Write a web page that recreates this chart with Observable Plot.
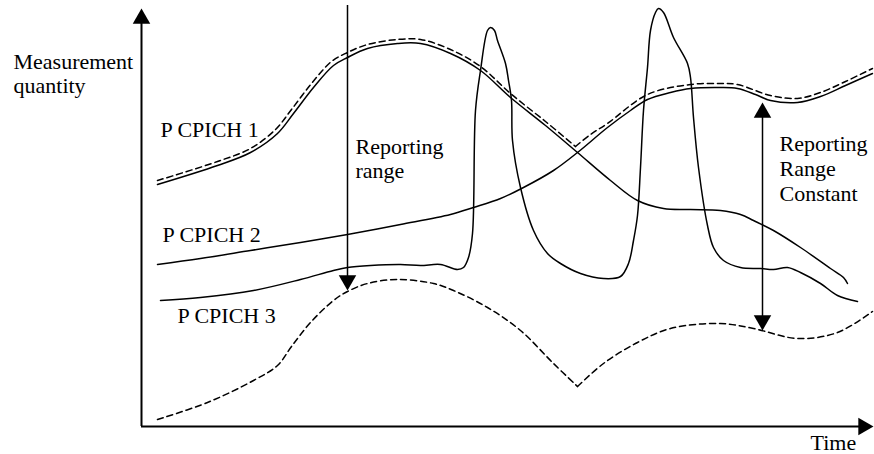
<!DOCTYPE html>
<html><head><meta charset="utf-8">
<script src="https://cdn.jsdelivr.net/npm/d3@7"></script>
<script src="https://cdn.jsdelivr.net/npm/@observablehq/plot@0.6"></script>
<style>html,body{margin:0;padding:0;background:#fff;}</style>
</head><body><div id="chart"></div>
<script>
// [time, measurement quantity]
const cpich1 = [[16,242],[76,261],[109,274],[136,293],[152,313],[172,339],[192,361],[206,369],[226,378],[256,383],[279,383],[309,373],[339,356],[369,329],[404,301],[436,274],[469,246],[496,226],[522,218],[549,217],[579,216],[599,212],[612,206],[632,196],[659,179],[689,158],[702,149],[706,143]];
const cpich2 = [[16,162],[59,168],[109,176],[159,184],[206,192],[259,202],[309,212],[332,219],[359,228],[382,239],[412,256],[436,274],[466,299],[489,316],[506,327],[529,334],[549,338],[579,339],[596,338],[614,332],[629,326],[656,324],[679,330],[704,341],[731,353]];
const cpich3 = [[19,126],[59,129],[112,136],[159,147],[192,156],[206,159],[229,161],[259,162],[279,161],[299,162],[316,157],[322,159],[327,169],[331,193],[334,316],[339,356],[346,396],[349,399],[353,396],[356,386],[364,363],[367,346],[370,326],[371,286],[379,239],[392,196],[406,173],[419,163],[439,153],[462,148],[479,150],[487,163],[492,186],[496,211],[499,259],[502,316],[506,359],[509,396],[514,414],[517,418],[522,414],[532,389],[546,363],[549,349],[552,309],[557,259],[566,201],[572,179],[582,166],[599,159],[619,158],[632,157],[646,159],[659,154],[679,143],[696,131],[716,125]];
// best cell (dashed upper), split at the crossing corner: [time, value, segment]
const bestCell = [[16,246,0],[76,265,0],[109,278,0],[134,297,0],[150,317,0],[170,343,0],[190,365,0],[206,374,0],[226,382,0],[256,387,0],[279,387,0],[309,377,0],[339,360,0],[369,333,0],[404,305,0],[434,280,0],
  [434,280,1],[449,292,1],[466,303,1],[506,332,1],[549,342,1],[579,343,1],[596,342,1],[629,331,1],[656,328,1],[679,334,1],[704,345,1],[731,358,1]];
// reporting range lower boundary (dashed), split at its corner
const rangeFloor = [[16,7,0],[66,24,0],[112,46,0],[136,61,0],[150,80,0],[169,104,0],[192,126,0],[206,135,0],[226,143,0],[256,147,0],[292,143,0],[312,136,0],[346,119,0],[379,96,0],[412,63,0],[436,40,0],
  [436,40,1],[462,63,1],[496,84,1],[529,98,1],[579,103,1],[612,98,1],[656,88,1],[696,94,1],[731,115,1]];
// arrows
const reportingRange = [{t:206, from:421, to:136}];
const reportingConstant = [{t:621, top:324, bottom:96}];
const axisEnds = {yTop:418, xEnd:732};
const labels = [
  {t:-128, v:358, text:"Measurement"},
  {t:-128, v:334, text:"quantity"},
  {t:19, v:290, text:"P CPICH 1"},
  {t:214, v:273, text:"Reporting"},
  {t:214, v:249, text:"range"},
  {t:21, v:185, text:"P CPICH 2"},
  {t:36, v:104, text:"P CPICH 3"},
  {t:638, v:276, text:"Reporting"},
  {t:638, v:251, text:"Range"},
  {t:638, v:226, text:"Constant"},
  {t:669, v:-23, text:"Time"}
];

const R = 6.5;
const tip = 2 * Math.sqrt(R * R * Math.PI / (3 * Math.sqrt(3)));
const lineOpts = {x: d => d[0], y: d => d[1], curve: "catmull-rom", stroke: "black", strokeWidth: 1.5};
const dashOpts = {...lineOpts, z: d => d[2], strokeDasharray: "6,4"};

const chart = Plot.plot({
  width: 874, height: 454,
  marginLeft: 141, marginRight: 0, marginTop: 0, marginBottom: 28,
  x: {domain: [0, 733], axis: null},
  y: {domain: [0, 426], axis: null},
  style: {background: "white", overflow: "visible"},
  marks: [
    // axes
    Plot.ruleX([0], {y1: 0, y2: axisEnds.yTop - 8, stroke: "black", strokeWidth: 2}),
    Plot.ruleY([0], {x1: 0, x2: axisEnds.xEnd - 8, stroke: "black", strokeWidth: 2}),
    Plot.dot([{t: 0, v: axisEnds.yTop}], {x: "t", y: "v", symbol: "triangle", r: R, fill: "black", dy: tip}),
    Plot.dot([{t: axisEnds.xEnd, v: 0}], {x: "t", y: "v", symbol: "triangle", r: R, fill: "black", rotate: 90, dx: -tip}),
    // curves
    Plot.line(cpich1, lineOpts),
    Plot.line(cpich2, lineOpts),
    Plot.line(cpich3, lineOpts),
    Plot.line(bestCell, dashOpts),
    Plot.line(rangeFloor, dashOpts),
    // reporting range arrow
    Plot.ruleX(reportingRange, {x: "t", y1: "from", y2: d => d.to + 8, stroke: "black", strokeWidth: 1.5}),
    Plot.dot(reportingRange, {x: "t", y: "to", symbol: "triangle", r: R, fill: "black", rotate: 180, dy: -tip}),
    // reporting range constant arrow
    Plot.ruleX(reportingConstant, {x: "t", y1: d => d.bottom + 8, y2: d => d.top - 8, stroke: "black", strokeWidth: 1.5}),
    Plot.dot(reportingConstant, {x: "t", y: "top", symbol: "triangle", r: R, fill: "black", dy: tip}),
    Plot.dot(reportingConstant, {x: "t", y: "bottom", symbol: "triangle", r: R, fill: "black", rotate: 180, dy: -tip}),
    // labels
    Plot.text(labels, {x: "t", y: "v", text: "text", textAnchor: "start", lineAnchor: "bottom", fontFamily: "Liberation Serif", fontSize: 22, fill: "black"})
  ]
});
document.getElementById("chart").appendChild(chart);
</script>
</body></html>
